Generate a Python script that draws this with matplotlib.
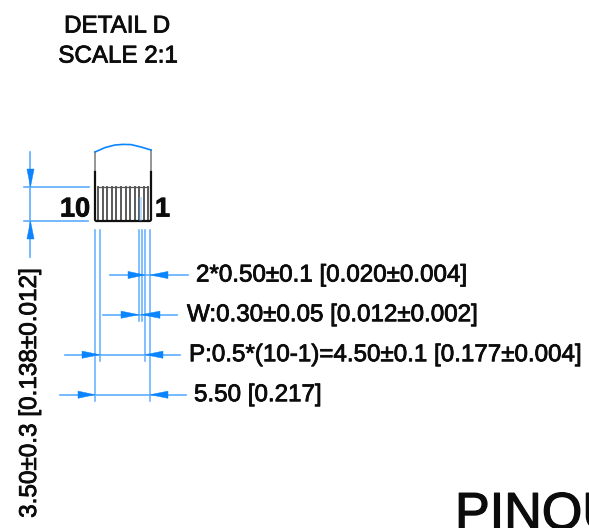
import matplotlib
matplotlib.use("Agg")
import matplotlib.pyplot as plt
import matplotlib.patheffects as pe
from matplotlib.patches import Polygon

BLUE = "#0a85ff"
LBLUE = "#5cadff"
DARK = "#101010"

title_lines = ["DETAIL D", "SCALE 2:1"]
pin_labels = ["10", "1"]
v_label = "3.50±0.3 [0.138±0.012]"
big_label = "PINOUT"

# y, line start, line end, left tail, left tip, right tip, right tail, label, label x
h_dims = [
    (275, 110, 188, 128, 145, 150, 168, "2*0.50±0.1 [0.020±0.004]", 196),
    (314.7, 103, 177, 121, 139, 141, 160, "W:0.30±0.05 [0.012±0.002]", 187),
    (354.7, 65, 180, 82, 100, 145, 163, "P:0.5*(10-1)=4.50±0.1 [0.177±0.004]", 189),
    (394.7, 60, 186, 78, 95, 150, 168, "5.50 [0.217]", 194),
]
# x, y top, y bottom
v_leaders = [
    (95.3, 230, 401), (100.4, 230, 361),
    (139.0, 230, 321), (141.5, 230, 321),
    (145.2, 230, 361), (150.4, 230, 401),
]
pin_x = [98, 102.6, 107.2, 111.8, 116.4, 121, 125.6, 130.2, 134.8, 139.4, 144, 148]
arc_x = [95, 105, 115, 123, 131, 141, 151]
arc_y = [152, 147.6, 145, 144.4, 144.6, 147, 150]

fig = plt.figure(figsize=(5.89, 5.28), dpi=100)
ax = fig.add_axes([0, 0, 1, 1])
ax.set_xlim(0, 589)
ax.set_ylim(528, 0)
ax.axis("off")

FONT = "Liberation Sans"
HEAVY = [pe.withStroke(linewidth=0.6, foreground="#0c0c0c")]


def label(x, y, s, size, **kw):
    t = ax.text(x, y, s, fontsize=size, family=FONT, color="#0c0c0c",
                fontweight=kw.pop("fontweight", "normal"), clip_on=False, **kw)
    t.set_path_effects(HEAVY)
    return t


def arrow(tail, tip, y=None, x=None):
    w = 3.6
    if y is not None:
        pts = [(tail, y - w), (tip, y), (tail, y + w)]
    else:
        pts = [(x - w, tail), (x, tip), (x + w, tail)]
    ax.add_patch(Polygon(pts, closed=True, fc=BLUE, ec=BLUE, lw=0.3, zorder=4))


# body outline
ax.plot([95, 95], [152, 172], color="#8c8c8c", lw=1.3, zorder=3)
ax.plot([151, 151], [150, 172], color="#8c8c8c", lw=1.3, zorder=3)
ax.plot([95, 95, 96, 150, 151, 151], [172, 220, 221, 221, 220, 172], color=DARK, lw=1.6, zorder=3)
ax.plot(arc_x, arc_y, color=BLUE, lw=1.2, zorder=3)

# pins
ax.plot([98, 148], [187, 187], color="#555555", lw=0.9, zorder=3)
for x in pin_x:
    ax.plot([x, x], [187, 220], color="#5a5a5a", lw=1.4, zorder=2)

# leaders
for x, y0, y1 in v_leaders:
    ax.plot([x, x], [y0, y1], color=LBLUE, lw=1.1, zorder=1)
ax.fill_between([139, 142], 197, 221, color=LBLUE, alpha=0.4, lw=0, zorder=4)

# vertical dimension
ax.plot([30, 30], [152, 257], color=LBLUE, lw=1.2, zorder=1)
ax.plot([24, 89], [187, 187], color=LBLUE, lw=1.2, zorder=1)
ax.plot([24, 88], [221, 221], color=LBLUE, lw=1.2, zorder=1)
arrow(169, 187, x=30.5)
arrow(239, 221, x=30.5)

# horizontal dimensions
for y, x0, x1, lt, ltip, rtip, rt, s, tx in h_dims:
    ax.plot([x0, x1], [y, y], color=LBLUE, lw=1.2, zorder=1)
    arrow(lt, ltip, y=y)
    arrow(rt, rtip, y=y)
    label(tx, y + 6.5, s, 17.4, va="baseline", ha="left")

# text
label(117, 32.5, title_lines[0], 17.4, ha="center", va="baseline")
label(118, 62.5, title_lines[1], 17.4, ha="center", va="baseline")
label(60, 216.5, pin_labels[0], 19.5, ha="left", va="baseline", fontweight="bold")
label(155, 216.5, pin_labels[1], 19.5, ha="left", va="baseline", fontweight="bold")
label(30, 393, v_label, 17.5, ha="center", va="center", rotation=90)
big = ax.text(455, 529, big_label, fontsize=37.5, family=FONT, color="#0c0c0c", ha="left", va="baseline", clip_on=True)
big.set_path_effects([pe.withStroke(linewidth=0.9, foreground="#0c0c0c")])

fig.savefig("out.png", dpi=100)
